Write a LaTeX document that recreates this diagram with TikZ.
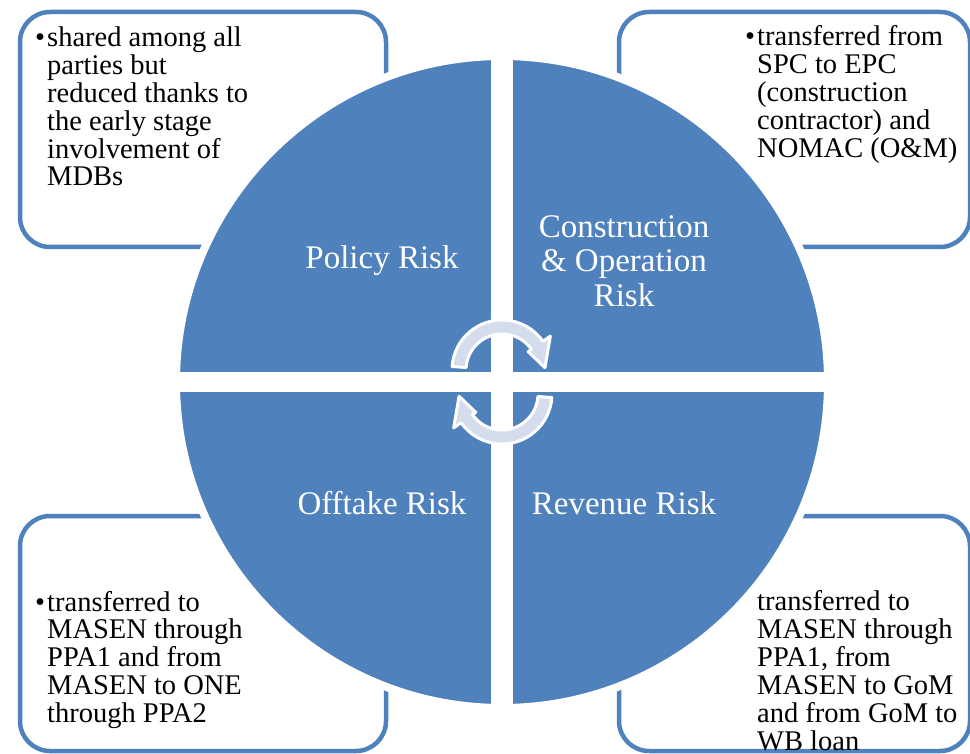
\documentclass[tikz,border=0pt]{standalone}
\usepackage{fontspec}
\setmainfont{Liberation Serif}
\definecolor{riskblue}{HTML}{4F81BD}
\definecolor{arrowfill}{HTML}{D3DDEC}
\begin{document}
\begin{tikzpicture}[x=1pt,y=-1pt,
  box/.style={draw=riskblue, line width=4.5pt, rounded corners=30pt, fill=white,
              inner sep=0pt, minimum width=#1},
  note/.style={anchor=base west, align=left, inner sep=0pt, text=black,
               font=\fontsize{28.5}{27.8}\selectfont},
  quad/.style={align=center, inner sep=0pt, text=white,
               font=\fontsize{33}{34.5}\selectfont},
  ringarrow/.style={fill=arrowfill, draw=white, line width=3pt, line join=round}]
\useasboundingbox (0,0) rectangle (970,754);

% corner boxes
\node[box=366pt, minimum height=235pt] (tlbox) at (203,129.5) {};
\node[box=351pt, minimum height=235pt] (trbox) at (794.5,129.5) {};
\node[box=366pt, minimum height=235pt] (blbox) at (203,633.5) {};
\node[box=351pt, minimum height=235pt] (brbox) at (794.5,633.5) {};

% the four-part disc
\node[circle, fill=riskblue, draw=white, line width=8pt, minimum size=652pt,
      inner sep=0pt] (disc) at (502,382) {};
\draw[white, line width=22pt] (disc.north) -- (disc.south);
\draw[white, line width=20pt] (disc.west) -- (disc.east);

% circular arrows in the middle
\begin{scope}[shift={(502,370)}]
  \path[ringarrow] (184:50) arc[start angle=184, end angle=325, radius=50]
     -- (325:59) -- (357:43) -- (325:32) -- (325:36)
     arc[start angle=325, end angle=184, radius=36] -- cycle;
\end{scope}
\begin{scope}[shift={(502,394)}, rotate=180]
  \path[ringarrow] (184:50) arc[start angle=184, end angle=325, radius=50]
     -- (325:59) -- (357:43) -- (325:32) -- (325:36)
     arc[start angle=325, end angle=184, radius=36] -- cycle;
\end{scope}

% quadrant titles
\node[quad] (policy) at (382,261) {Policy Risk};
\node[quad] (constr) at (624,261) {Construction\\ \& Operation\\ Risk};
\node[quad] (offtake) at (382,503) {Offtake Risk};
\node[quad] (revenue) at (624,503) {Revenue Risk};

% box texts (each node sits on the baseline of its last line)
\node[note] (tltext) at (47,186) {\makebox[0pt][r]{\textbullet\hspace{2pt}}shared among all\\
  parties but\\ reduced thanks to\\ the early stage\\ involvement of\\ MDBs};
\node[note] (trtext) at (757,157.2) {\makebox[0pt][r]{\textbullet\hspace{2pt}}transferred from\\
  SPC to EPC\\ (construction\\ contractor) and\\ NOMAC (O\&M)};
\node[note] (bltext) at (47,722.2) {\makebox[0pt][r]{\textbullet\hspace{2pt}}transferred to\\
  MASEN through\\ PPA1 and from\\ MASEN to ONE\\ through PPA2};
\node[note, font=\fontsize{28.5}{28.1}\selectfont] (brtext) at (757,750.5) {transferred to\\
  MASEN through\\ PPA1, from\\ MASEN to GoM\\ and from GoM to\\ WB loan};
\end{tikzpicture}
\end{document}
